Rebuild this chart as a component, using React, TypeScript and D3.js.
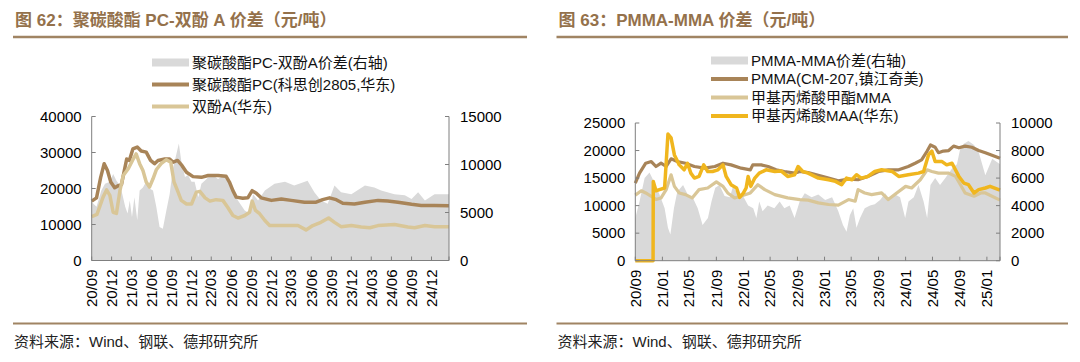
import React from 'react';
import * as d3 from 'd3';

type Pt = [string, number];

// ---------- Figure 62 data ----------
const pcSpread: Pt[] = [
  ['2020-09-01', 6100], ['2020-09-23', 5600], ['2020-10-15', 7300], ['2020-11-01', 8000], ['2020-11-23', 8200],
  ['2020-12-08', 9000], ['2020-12-23', 8300], ['2021-01-08', 7800], ['2021-01-19', 6900], ['2021-02-01', 5600],
  ['2021-02-12', 4900], ['2021-02-22', 6250], ['2021-03-04', 4500], ['2021-03-15', 6600], ['2021-03-28', 4200],
  ['2021-04-08', 7300], ['2021-04-23', 7600], ['2021-05-08', 8200], ['2021-05-23', 7500], ['2021-06-08', 7300],
  ['2021-06-23', 5600], ['2021-07-08', 3500], ['2021-07-23', 3300], ['2021-08-08', 5200], ['2021-08-23', 6900],
  ['2021-09-08', 9700], ['2021-09-23', 11100], ['2021-10-04', 12200], ['2021-10-15', 10400], ['2021-11-01', 8700],
  ['2021-11-15', 8900], ['2021-12-01', 8200], ['2021-12-15', 8200], ['2022-01-01', 6600], ['2022-01-15', 8000],
  ['2022-02-08', 8500], ['2022-03-01', 9000], ['2022-04-01', 8500], ['2022-05-01', 8900], ['2022-06-01', 7600],
  ['2022-07-01', 6250], ['2022-08-01', 5200], ['2022-08-23', 4900], ['2022-09-08', 6900], ['2022-10-01', 6250],
  ['2022-11-01', 7300], ['2022-12-15', 8000], ['2023-02-01', 8200], ['2023-03-15', 7800], ['2023-05-15', 8300],
  ['2023-06-15', 7100], ['2023-07-15', 6250], ['2023-08-15', 5900], ['2023-09-15', 7800], ['2023-10-15', 7100],
  ['2023-12-01', 6900], ['2024-02-01', 7800], ['2024-03-15', 7600], ['2024-04-15', 7300], ['2024-06-15', 6900],
  ['2024-08-01', 6800], ['2024-09-01', 6400], ['2024-10-01', 7100], ['2024-11-01', 6250], ['2024-12-15', 6900],
  ['2025-02-19', 6900],
];

const pcPrice: Pt[] = [
  ['2020-09-01', 16500], ['2020-09-23', 17400], ['2020-10-12', 23100], ['2020-10-28', 26900], ['2020-11-12', 25000],
  ['2020-11-27', 21800], ['2020-12-15', 20200], ['2021-01-01', 20800], ['2021-01-15', 21100], ['2021-01-28', 25000],
  ['2021-02-08', 28200], ['2021-02-20', 27800], ['2021-03-08', 31000], ['2021-03-28', 31500], ['2021-04-15', 30400],
  ['2021-05-08', 30100], ['2021-05-28', 27800], ['2021-06-15', 26900], ['2021-07-01', 27800], ['2021-08-01', 28200],
  ['2021-08-23', 28200], ['2021-09-08', 27300], ['2021-09-28', 27800], ['2021-10-18', 26400], ['2021-11-08', 24500],
  ['2021-12-08', 23300], ['2022-01-15', 23100], ['2022-02-15', 23600], ['2022-04-01', 23600], ['2022-05-08', 23400],
  ['2022-05-23', 21800], ['2022-06-08', 19400], ['2022-06-23', 17600], ['2022-07-23', 17300], ['2022-08-15', 17400],
  ['2022-09-04', 19400], ['2022-09-23', 18700], ['2022-10-15', 17400], ['2022-12-01', 16700], ['2023-01-15', 17100],
  ['2023-03-01', 16700], ['2023-05-01', 16200], ['2023-06-23', 16200], ['2023-07-23', 16900], ['2023-08-23', 17400],
  ['2023-09-23', 16900], ['2023-10-23', 15900], ['2023-12-15', 15700], ['2024-02-01', 16200], ['2024-04-01', 16700],
  ['2024-05-15', 16500], ['2024-07-01', 16200], ['2024-09-01', 15600], ['2024-10-15', 15300], ['2024-12-15', 15300],
  ['2025-02-19', 15200],
];

const bpaPrice: Pt[] = [
  ['2020-09-01', 12200], ['2020-09-25', 12800], ['2020-10-23', 17600], ['2020-11-08', 19600], ['2020-11-23', 18100],
  ['2020-12-08', 13400], ['2020-12-23', 13100], ['2021-01-08', 19400], ['2021-01-23', 23600], ['2021-02-15', 25500],
  ['2021-03-08', 28000], ['2021-03-23', 29600], ['2021-04-08', 26900], ['2021-04-23', 25000], ['2021-05-08', 21800],
  ['2021-05-23', 20400], ['2021-06-08', 22700], ['2021-06-23', 25200], ['2021-07-15', 26900], ['2021-08-08', 28000],
  ['2021-08-28', 27300], ['2021-09-12', 21800], ['2021-09-28', 19400], ['2021-10-15', 16700], ['2021-11-08', 15700],
  ['2021-12-01', 15700], ['2021-12-23', 19000], ['2022-01-08', 19200], ['2022-02-01', 17400], ['2022-02-23', 16500],
  ['2022-03-23', 16900], ['2022-04-23', 16700], ['2022-05-15', 14800], ['2022-06-08', 12500], ['2022-07-01', 11800],
  ['2022-08-01', 12500], ['2022-08-23', 13400], ['2022-09-04', 16500], ['2022-09-19', 13900], ['2022-10-08', 13000],
  ['2022-11-01', 11100], ['2022-11-23', 9700], ['2023-01-15', 9700], ['2023-03-01', 9700], ['2023-04-01', 9700],
  ['2023-05-08', 8500], ['2023-06-08', 9700], ['2023-07-15', 10600], ['2023-08-19', 11800], ['2023-09-15', 10600],
  ['2023-10-15', 9400], ['2023-12-01', 9700], ['2024-01-15', 9300], ['2024-02-23', 9100], ['2024-04-01', 9700],
  ['2024-06-15', 10000], ['2024-08-15', 9300], ['2024-09-15', 9100], ['2024-11-01', 9700], ['2024-12-15', 9400],
  ['2025-02-19', 9400],
];

// ---------- Figure 63 data ----------
const pmmaSpread: Pt[] = [
  ['2020-09-01', 3100], ['2020-09-20', 4300], ['2020-10-13', 6000], ['2020-11-04', 6400], ['2020-11-28', 5600],
  ['2020-12-19', 4800], ['2021-01-11', 3800], ['2021-01-26', 2400], ['2021-02-06', 1900], ['2021-02-22', 3800],
  ['2021-03-09', 5000], ['2021-04-04', 5500], ['2021-04-25', 4800], ['2021-05-17', 4600], ['2021-06-09', 3800],
  ['2021-07-01', 2600], ['2021-07-25', 3100], ['2021-08-10', 4300], ['2021-08-27', 5300], ['2021-09-15', 5500],
  ['2021-10-08', 4700], ['2021-11-01', 4600], ['2021-11-15', 5400], ['2021-12-07', 4800], ['2021-12-30', 4700],
  ['2022-01-22', 4000], ['2022-02-14', 3800], ['2022-02-28', 3100], ['2022-03-13', 4300], ['2022-03-28', 3600],
  ['2022-04-20', 4000], ['2022-05-20', 3800], ['2022-06-13', 4300], ['2022-07-04', 3800], ['2022-07-28', 4000],
  ['2022-08-19', 3100], ['2022-09-11', 4300], ['2022-10-04', 4900], ['2022-11-04', 4600], ['2022-12-04', 4800],
  ['2023-01-04', 4400], ['2023-02-04', 4600], ['2023-03-04', 3600], ['2023-03-25', 2600], ['2023-04-10', 2100],
  ['2023-04-25', 3300], ['2023-05-10', 3800], ['2023-05-25', 2400], ['2023-06-10', 3100], ['2023-07-01', 3800],
  ['2023-07-25', 4000], ['2023-08-15', 4100], ['2023-09-08', 4400], ['2023-10-01', 4900], ['2023-10-22', 4400],
  ['2023-11-15', 4800], ['2023-12-07', 4600], ['2023-12-30', 3100], ['2024-01-14', 4300], ['2024-02-07', 4600],
  ['2024-02-28', 5500], ['2024-03-22', 4300], ['2024-04-07', 3100], ['2024-04-22', 5500], ['2024-05-13', 6000],
  ['2024-06-04', 5500], ['2024-06-28', 6000], ['2024-07-28', 6700], ['2024-08-19', 7000], ['2024-09-04', 8200],
  ['2024-09-19', 8500], ['2024-10-10', 8700], ['2024-11-04', 8400], ['2024-11-25', 7900], ['2024-12-25', 6200],
  ['2025-01-25', 7400], ['2025-03-01', 7000],
];

const pmmaPrice: Pt[] = [
  ['2020-09-01', 14100], ['2020-09-20', 15900], ['2020-10-18', 17700], ['2020-11-12', 18000], ['2020-12-03', 17100],
  ['2020-12-26', 17700], ['2021-01-18', 17100], ['2021-02-09', 18500], ['2021-03-09', 18000], ['2021-04-15', 17700],
  ['2021-05-25', 17100], ['2021-07-10', 16800], ['2021-08-25', 17100], ['2021-10-01', 17700], ['2021-11-06', 17400],
  ['2021-12-22', 16800], ['2022-02-01', 16500], ['2022-02-12', 17400], ['2022-03-22', 17400], ['2022-04-22', 17100],
  ['2022-05-28', 16500], ['2022-07-04', 16200], ['2022-08-19', 15900], ['2022-09-12', 16200], ['2022-10-19', 16000],
  ['2022-12-04', 15500], ['2023-01-19', 15000], ['2023-03-04', 14500], ['2023-04-19', 14800], ['2023-06-01', 14700],
  ['2023-07-15', 15300], ['2023-09-01', 16200], ['2023-10-15', 16500], ['2023-12-01', 16500], ['2024-01-13', 17100],
  ['2024-02-13', 17700], ['2024-03-13', 18300], ['2024-04-07', 19900], ['2024-04-22', 21000], ['2024-05-13', 20600],
  ['2024-05-28', 19600], ['2024-06-19', 19900], ['2024-07-13', 20000], ['2024-08-04', 20800], ['2024-08-28', 20500],
  ['2024-09-25', 20800], ['2024-10-25', 20600], ['2024-11-25', 20000], ['2024-12-25', 19600], ['2025-03-01', 18600],
];

const mmaPrice: Pt[] = [
  ['2020-09-01', 11900], ['2020-09-28', 12700], ['2020-10-18', 12300], ['2020-11-12', 11700], ['2020-12-03', 11100],
  ['2020-12-26', 11400], ['2021-01-18', 12900], ['2021-02-09', 15600], ['2021-02-24', 13500], ['2021-03-18', 12300],
  ['2021-04-15', 12000], ['2021-05-15', 11400], ['2021-06-15', 12900], ['2021-07-24', 13200], ['2021-09-01', 14300],
  ['2021-10-01', 13500], ['2021-10-22', 12300], ['2021-11-22', 11400], ['2022-01-01', 11900], ['2022-02-01', 12300],
  ['2022-03-07', 13800], ['2022-04-07', 12900], ['2022-05-22', 12000], ['2022-07-19', 11400], ['2022-09-12', 11100],
  ['2022-10-19', 11000], ['2022-12-04', 10500], ['2023-01-19', 10200], ['2023-03-04', 10100], ['2023-04-19', 11100],
  ['2023-05-19', 10800], ['2023-06-01', 12900], ['2023-07-01', 12300], ['2023-08-01', 12000], ['2023-09-15', 12300],
  ['2023-10-15', 11100], ['2023-11-22', 12300], ['2024-01-01', 13500], ['2024-01-28', 13200], ['2024-03-07', 14700],
  ['2024-04-07', 16500], ['2024-04-28', 16200], ['2024-05-28', 15900], ['2024-07-13', 15900], ['2024-08-13', 15300],
  ['2024-09-04', 13800], ['2024-09-25', 12300], ['2024-11-04', 11700], ['2024-12-04', 12300], ['2024-12-25', 12300],
  ['2025-03-01', 11000],
];

const maaPrice: Pt[] = [
  ['2020-09-01', 0], ['2020-11-20', 0], ['2020-11-21', 14400], ['2020-12-03', 12700], ['2020-12-19', 12900],
  ['2021-01-11', 13200], ['2021-01-26', 23000], ['2021-02-09', 22300], ['2021-02-24', 19200], ['2021-03-18', 17400],
  ['2021-04-09', 16500], ['2021-04-24', 17700], ['2021-05-09', 15900], ['2021-05-25', 15000], ['2021-06-15', 15300],
  ['2021-07-06', 17400], ['2021-07-24', 16200], ['2021-08-15', 16200], ['2021-09-08', 16500], ['2021-10-01', 17400],
  ['2021-10-15', 15300], ['2021-11-06', 13800], ['2021-12-01', 13200], ['2021-12-15', 11500], ['2022-01-01', 12300],
  ['2022-01-13', 13200], ['2022-01-22', 15300], ['2022-02-03', 13500], ['2022-02-21', 15000], ['2022-03-13', 15900],
  ['2022-04-13', 16500], ['2022-05-22', 16200], ['2022-06-19', 16300], ['2022-07-19', 15300], ['2022-08-19', 15600],
  ['2022-09-04', 17100], ['2022-09-25', 16200], ['2022-10-19', 15900], ['2022-12-04', 15000], ['2023-01-19', 14700],
  ['2023-02-19', 14400], ['2023-03-19', 13800], ['2023-04-10', 15000], ['2023-05-04', 14700], ['2023-05-25', 15600],
  ['2023-06-15', 15000], ['2023-07-15', 15300], ['2023-08-15', 16200], ['2023-09-15', 16500], ['2023-11-01', 16200],
  ['2023-12-01', 15300], ['2024-01-13', 15600], ['2024-02-28', 15900], ['2024-03-22', 16200], ['2024-04-13', 19200],
  ['2024-04-28', 19900], ['2024-05-13', 18000], ['2024-06-13', 18000], ['2024-07-04', 17400], ['2024-07-28', 17700],
  ['2024-08-28', 15300], ['2024-09-19', 14100], ['2024-10-10', 13800], ['2024-11-04', 12300], ['2024-11-25', 12900],
  ['2024-12-25', 13200], ['2025-01-15', 13500], ['2025-03-01', 12800],
];

// ---------- axis ticks ----------
const fig62LeftTicks = [0, 10000, 20000, 30000, 40000];
const fig62RightTicks = [0, 5000, 10000, 15000];
const fig62XTicks = [
  '2020-09-01', '2020-12-01', '2021-03-01', '2021-06-01', '2021-09-01', '2021-12-01', '2022-03-01', '2022-06-01',
  '2022-09-01', '2022-12-01', '2023-03-01', '2023-06-01', '2023-09-01', '2023-12-01', '2024-03-01', '2024-06-01',
  '2024-09-01', '2024-12-01',
];
const fig63LeftTicks = [0, 5000, 10000, 15000, 20000, 25000];
const fig63RightTicks = [0, 2000, 4000, 6000, 8000, 10000];
const fig63XTicks = [
  '2020-09-01', '2021-01-01', '2021-05-01', '2021-09-01', '2022-01-01', '2022-05-01', '2022-09-01', '2023-01-01',
  '2023-05-01', '2023-09-01', '2024-01-01', '2024-05-01', '2024-09-01', '2025-01-01',
];

const SANS = '"Liberation Sans", Arial, "Noto Sans CJK SC", sans-serif';
const GREY = '#d9d9d9';
const BROWN = '#a88458';
const TAN = '#d9c697';
const YELLOW = '#f0b61e';
const TITLE_C = '#94714b';
const RULE_C = '#a08463';
const AXIS_C = '#7f7f7f';

const parse = d3.timeParse('%Y-%m-%d');
const fmt = d3.timeFormat('%y/%m');

interface Series { data: Pt[]; kind: 'area' | 'line'; color: string; width?: number; label: string }
interface Cfg {
  ox: number; title: string; ruleX1: number;
  x0: number; x1: number; yTop: number; yBot: number; xEnd: string;
  lMax: number; rMax: number; lTicks: number[]; rTicks: number[]; xTicks: string[];
  series: Series[]; legX: number; legY: number[];
}

function Panel({ c }: { c: Cfg }) {
  const x = d3.scaleTime().domain([parse('2020-09-01')!, parse(c.xEnd)!]).range([c.x0, c.x1]);
  const yL = d3.scaleLinear().domain([0, c.lMax]).range([c.yBot, c.yTop]);
  const yR = d3.scaleLinear().domain([0, c.rMax]).range([c.yBot, c.yTop]);
  const area = d3.area<Pt>().x(d => x(parse(d[0])!)).y0(c.yBot).y1(d => yR(d[1]));
  const line = d3.line<Pt>().x(d => x(parse(d[0])!)).y(d => yL(d[1]));
  const tl = 4;
  return (
    <g>
      <text x={c.ox + 2} y={26} fontFamily={SANS} fontSize={17} fontWeight="bold" fill={TITLE_C}>{c.title}</text>
      <line x1={c.ox} x2={c.ruleX1} y1={37} y2={37} stroke={RULE_C} strokeWidth={2.5} />
      {c.series.map((s, i) =>
        s.kind === 'area'
          ? <path key={i} d={area(s.data)!} fill={s.color} />
          : <path key={i} d={line(s.data)!} fill="none" stroke={s.color} strokeWidth={s.width ?? 3.5} strokeLinejoin="round" />
      )}
      {/* axes */}
      <line x1={c.x0} x2={c.x0} y1={c.yTop} y2={c.yBot} stroke={AXIS_C} />
      <line x1={c.x1} x2={c.x1} y1={c.yTop} y2={c.yBot} stroke={AXIS_C} />
      <line x1={c.x0} x2={c.x1} y1={c.yBot} y2={c.yBot} stroke={AXIS_C} />
      {c.lTicks.map(t => (
        <g key={'l' + t}>
          <line x1={c.x0} x2={c.x0 + tl} y1={yL(t)} y2={yL(t)} stroke={AXIS_C} />
          <text x={c.x0 - 10} y={yL(t)} dy="0.35em" textAnchor="end" fontFamily={SANS} fontSize={15} fill="#000">{t}</text>
        </g>
      ))}
      {c.rTicks.map(t => (
        <g key={'r' + t}>
          <line x1={c.x1} x2={c.x1 - tl} y1={yR(t)} y2={yR(t)} stroke={AXIS_C} />
          <text x={c.x1 + 11} y={yR(t)} dy="0.35em" textAnchor="start" fontFamily={SANS} fontSize={15} fill="#000">{t}</text>
        </g>
      ))}
      {c.xTicks.map(t => {
        const px = x(parse(t)!);
        return (
          <g key={t}>
            <line x1={px} x2={px} y1={c.yBot} y2={c.yBot - tl} stroke={AXIS_C} />
            <text transform={`translate(${px},${c.yBot + 9}) rotate(-90)`} dy="0.35em" textAnchor="end" fontFamily={SANS} fontSize={15} fill="#000">{fmt(parse(t)!)}</text>
          </g>
        );
      })}
      <line x1={c.x1} x2={c.x1} y1={c.yBot} y2={c.yBot - tl} stroke={AXIS_C} />
      {/* legend */}
      {c.series.map((s, i) => (
        <g key={'lg' + i} transform={`translate(${c.legX},${c.legY[i]})`}>
          {s.kind === 'area'
            ? <rect x={0} y={-4} width={37} height={8} fill={s.color} />
            : <line x1={0} x2={37} y1={0} y2={0} stroke={s.color} strokeWidth={4} />}
          <text x={40} y={0} dy="0.36em" fontFamily={SANS} fontSize={15} fill="#111">{s.label}</text>
        </g>
      ))}
      {/* footer */}
      <line x1={c.ox} x2={c.ruleX1} y1={323.5} y2={323.5} stroke={RULE_C} strokeWidth={2} />
      <text x={c.ox + 1} y={342} dy="0.36em" fontFamily={SANS} fontSize={15} fill="#222">资料来源：Wind、钢联、德邦研究所</text>
    </g>
  );
}

const fig62: Cfg = {
  ox: 13, title: '图 62：聚碳酸酯 PC-双酚 A 价差（元/吨）', ruleX1: 527,
  x0: 91.7, x1: 449, yTop: 116.5, yBot: 260.5, xEnd: '2025-02-19',
  lMax: 40000, rMax: 15000, lTicks: fig62LeftTicks, rTicks: fig62RightTicks, xTicks: fig62XTicks,
  series: [
    { data: pcSpread, kind: 'area', color: GREY, label: '聚碳酸酯PC-双酚A价差(右轴)' },
    { data: pcPrice, kind: 'line', color: BROWN, label: '聚碳酸酯PC(科思创2805,华东)' },
    { data: bpaPrice, kind: 'line', color: TAN, label: '双酚A(华东)' },
  ],
  legX: 152, legY: [62.5, 84.5, 106.5],
};

const fig63: Cfg = {
  ox: 556.5, title: '图 63：PMMA-MMA 价差（元/吨）', ruleX1: 1068,
  x0: 635.3, x1: 1000, yTop: 123, yBot: 260.7, xEnd: '2025-03-01',
  lMax: 25000, rMax: 10000, lTicks: fig63LeftTicks, rTicks: fig63RightTicks, xTicks: fig63XTicks,
  series: [
    { data: pmmaSpread, kind: 'area', color: GREY, label: 'PMMA-MMA价差(右轴)' },
    { data: pmmaPrice, kind: 'line', color: BROWN, width: 3.2, label: 'PMMA(CM-207,镇江奇美)' },
    { data: mmaPrice, kind: 'line', color: TAN, width: 3.2, label: '甲基丙烯酸甲酯MMA' },
    { data: maaPrice, kind: 'line', color: YELLOW, width: 3.5, label: '甲基丙烯酸MAA(华东)' },
  ],
  legX: 711, legY: [60.5, 79, 97.5, 116],
};

export default function App() {
  return (
    <svg width={1080} height={362} style={{ position: 'absolute', left: 0, top: 0, background: '#fff' }}>
      <rect width={1080} height={362} fill="#fff" />
      <Panel c={fig62} />
      <Panel c={fig63} />
    </svg>
  );
}
